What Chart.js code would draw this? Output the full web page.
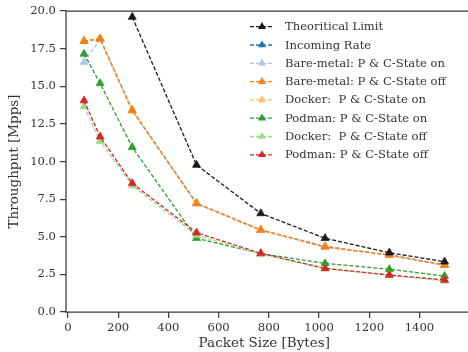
<!DOCTYPE html>
<html>
<head>
<meta charset="utf-8">
<script src="https://cdn.jsdelivr.net/npm/chart.js@4.4.0/dist/chart.umd.min.js"></script>
<style>
  html, body { margin: 0; padding: 0; background: #fff; }
  #wrap { width: 468px; height: 352px; }
</style>
</head>
<body>
<div id="wrap"><canvas id="myChart" width="468" height="352"></canvas></div>
<script>
// packet sizes (bytes)
const packetSizes = [64, 128, 256, 512, 768, 1024, 1280, 1500];
const xTicks = [0, 200, 400, 600, 800, 1000, 1200, 1400];
const yTicks = [0, 2.5, 5, 7.5, 10, 12.5, 15, 17.5, 20];

// throughput in Mpps
const theoreticalLimit = [null, null, 19.6, 9.77, 6.55, 4.9, 3.94, 3.34];
const incomingRate     = [18.0, 18.15, 13.4, 7.22, 5.45, 4.34, 3.79, 3.12];
const bareOn           = [16.6, 18.1, 13.4, 7.2, 5.42, 4.3, 3.76, 3.1];
const bareOff          = [18.0, 18.15, 13.4, 7.22, 5.45, 4.34, 3.79, 3.12];
const dockerOn         = [18.0, 18.15, 13.4, 7.22, 5.45, 4.34, 3.79, 3.12];
const podmanOn         = [17.15, 15.2, 10.95, 4.9, 3.88, 3.23, 2.84, 2.39];
const dockerOff        = [13.65, 11.35, 8.4, 5.1, 3.85, 2.88, 2.44, 2.07];
const podmanOff        = [14.05, 11.65, 8.55, 5.27, 3.9, 2.9, 2.46, 2.13];

const seriesNames = [
    'Theoritical Limit',
    'Incoming Rate',
    'Bare-metal: P & C-State on',
    'Bare-metal: P & C-State off',
    'Docker:  P & C-State on',
    'Podman: P & C-State on',
    'Docker:  P & C-State off',
    'Podman: P & C-State off'
];
const seriesValues = [theoreticalLimit, incomingRate, bareOn, bareOff, dockerOn, podmanOn, dockerOff, podmanOff];
const seriesColors = ['#1a1a1a', '#1f77b4', '#aec7e8', '#ff7f0e', '#ffbb78', '#2ca02c', '#98df8a', '#d62728'];
// drawing order (higher = further back), so hidden series stay under orange like the original
const seriesOrder = [1, 9, 8, 5, 7, 4, 3, 2];

const FONT = "'DejaVu Serif', serif";
const TXT = '#333333';
const SPINE = '#3c3c3c';

const datasets = seriesNames.map((name, i) => ({
    label: name,
    data: packetSizes.map((x, j) => ({ x: x, y: seriesValues[i][j] })),
    borderColor: seriesColors[i],
    backgroundColor: seriesColors[i],
    pointBackgroundColor: seriesColors[i],
    pointBorderColor: seriesColors[i],
    pointStyle: 'triangle',
    pointRadius: 4.6,
    pointBorderWidth: 0.8,
    borderWidth: 1.3,
    borderDash: [4, 2],
    tension: 0,
    spanGaps: false,
    order: seriesOrder[i]
}));

// left, top and bottom spines (the right one falls outside the picture)
const boxPlugin = {
    id: 'box',
    afterDraw(chart) {
        const a = chart.chartArea;
        const ctx = chart.ctx;
        ctx.save();
        ctx.strokeStyle = SPINE;
        ctx.lineWidth = 1.25;
        ctx.beginPath();
        ctx.moveTo(chart.width, a.top);
        ctx.lineTo(a.left, a.top);
        ctx.lineTo(a.left, a.bottom);
        ctx.lineTo(chart.width, a.bottom);
        ctx.stroke();
        ctx.restore();
    }
};

const legendPlugin = {
    id: 'lineLegend',
    afterDatasetsDraw(chart) {
        const ctx = chart.ctx;
        const x0 = 250, x1 = 274, tx = 285;
        let y = 26.7;
        ctx.save();
        chart.data.datasets.forEach(ds => {
            ctx.strokeStyle = ds.borderColor;
            ctx.fillStyle = ds.borderColor;
            ctx.lineWidth = 1.3;
            ctx.setLineDash([4, 2]);
            ctx.beginPath();
            ctx.moveTo(x0, y);
            ctx.lineTo(x1, y);
            ctx.stroke();
            ctx.setLineDash([]);
            Chart.helpers.drawPoint(ctx, { pointStyle: 'triangle', radius: 4.6, borderWidth: 0 }, (x0 + x1) / 2, y);
            ctx.fillStyle = TXT;
            ctx.font = '11.6px ' + FONT;
            ctx.textBaseline = 'middle';
            ctx.fillText(ds.label, tx, y + 0.5);
            y += 18.3;
        });
        ctx.restore();
    }
};

new Chart(document.getElementById('myChart').getContext('2d'), {
    type: 'line',
    data: { datasets: datasets },
    options: {
        responsive: false,
        animation: false,
        layout: { padding: { top: 11, right: 1, left: 0, bottom: 0 } },
        plugins: {
            legend: { display: false },
            tooltip: { enabled: false }
        },
        scales: {
            x: {
                type: 'linear',
                min: -7.8,
                max: 1571.8,
                afterBuildTicks: s => { s.ticks = xTicks.map(v => ({ value: v })); },
                afterFit: s => { s.height = 40; },
                grid: { drawOnChartArea: false, drawTicks: true, tickLength: 6, color: SPINE, lineWidth: 1.25 },
                border: { display: false },
                ticks: { color: TXT, font: { family: FONT, size: 11.6 }, padding: 3, maxRotation: 0, callback: v => String(v) },
                title: { display: true, text: 'Packet Size [Bytes]', color: TXT, font: { family: FONT, size: 13.5 }, padding: { top: 0, bottom: 0 } }
            },
            y: {
                type: 'linear',
                min: 0,
                max: 20,
                afterBuildTicks: s => { s.ticks = yTicks.map(v => ({ value: v })); },
                afterFit: s => { s.width = 66; },
                grid: { drawOnChartArea: false, drawTicks: true, tickLength: 6, color: SPINE, lineWidth: 1.25 },
                border: { display: false },
                ticks: { color: TXT, font: { family: FONT, size: 11.6 }, padding: 4, callback: v => v.toFixed(1) },
                title: { display: true, text: 'Throughput [Mpps]', color: TXT, font: { family: FONT, size: 13.5 }, padding: { top: 6, bottom: 0 } }
            }
        }
    },
    plugins: [boxPlugin, legendPlugin]
});
</script>
</body>
</html>
